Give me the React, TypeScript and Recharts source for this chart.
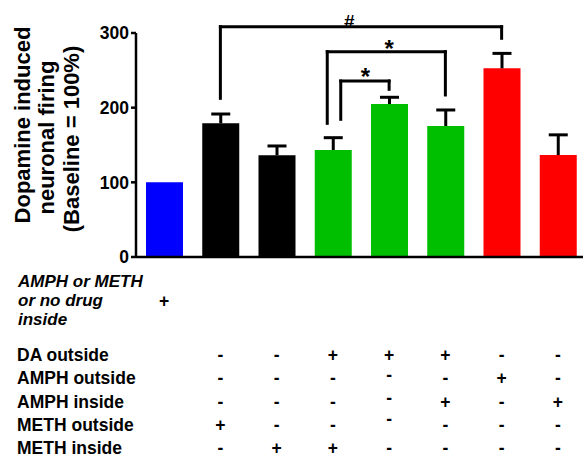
import React from 'react';
import { ComposedChart, Bar, XAxis, YAxis, Cell, ReferenceLine, ReferenceDot } from 'recharts';

const groups = [0, 1, 2, 3, 4, 5, 6, 7];
const firingValues = [100, 179, 136.2, 143.3, 204.9, 175.4, 252.7, 136.6];
const firingSem = [0, 12.5, 12.5, 16.5, 9, 21.5, 20, 27];
const yTicks = [0, 100, 200, 300];
const barColors = ['#0000ff', '#000000', '#000000', '#00bf00', '#00bf00', '#00bf00', '#ff0000', '#ff0000'];

const yLabelLines = ['Dopamine induced', 'neuronal firing', '(Baseline = 100%)'];
const insideLabelLines = ['AMPH or METH', 'or no drug', 'inside'];
const insideMarks = ['+', '', '', '', '', '', '', ''];
const rowLabels = ['DA outside', 'AMPH outside', 'AMPH inside', 'METH outside', 'METH inside'];
const daOutside = ['', '-', '-', '+', '+', '+', '-', '-'];
const amphOutside = ['', '-', '-', '-', '-', '-', '+', '-'];
const amphInside = ['', '-', '-', '-', '-', '+', '-', '+'];
const methOutside = ['', '+', '-', '-', '-', '-', '-', '-'];
const methInside = ['', '-', '+', '+', '-', '-', '-', '-'];
const tableRows = [daOutside, amphOutside, amphInside, methOutside, methInside];

const bracketFrom = [1, 2.9, 3.14];
const bracketTo = [6, 5, 4];
const bracketTop = [308.4, 275, 235.7];
const bracketFromBottom = [212.5, 179, 184.4];
const bracketToBottom = [292.9, 217, 224.6];
const signifText = ['#', '*', '*'];
const signifX = [3.29, 4.0, 3.58];
const signifY = [316, 286.2, 248.2];

const data = groups.map((g, i) => ({ g, value: firingValues[i], sem: firingSem[i] }));

const FONT = '"Liberation Sans", Arial, Helvetica, sans-serif';
const INK = '#000';

// layout (styles)
const insideMarkBaseline = 307;
const rowBaselines = [361, 384.3, 407.6, 431, 454.3];
const markNudge: Record<string, number> = { '1-4': -3, '2-4': -4, '3-4': -6 };
const CAP_HALF = 9.5;

const MarkTick = (props: any) => {
  const { x, payload } = props;
  const col = payload.value as number;
  return (
    <g>
      {insideMarks[col] ? (
        <text x={x} y={insideMarkBaseline} textAnchor="middle" fontFamily={FONT} fontWeight="bold" fontSize={17.5} fill={INK}>
          {insideMarks[col]}
        </text>
      ) : null}
      {tableRows.map((row, r) =>
        row[col] ? (
          <text
            key={r}
            x={x}
            y={rowBaselines[r] + (markNudge[`${r}-${col}`] || 0)}
            textAnchor="middle"
            fontFamily={FONT}
            fontWeight="bold"
            fontSize={17.5}
            fill={INK}
          >
            {row[col]}
          </text>
        ) : null
      )}
    </g>
  );
};

// upper error whisker drawn from the stacked SEM segment's own geometry
const Whisker = (p: any) => {
  const { x, y, width, height } = p;
  if (!height || height <= 0.01) return null;
  const cx = x + width / 2;
  return (
    <g>
      <line x1={cx} x2={cx} y1={y + height} y2={y} stroke={INK} strokeWidth={3} />
      <line x1={cx - CAP_HALF} x2={cx + CAP_HALF} y1={y} y2={y} stroke={INK} strokeWidth={3} />
    </g>
  );
};

const SignifText = (text: string) => (p: any) => {
  const fs = text === '#' ? 19 : 24;
  const dy = text === '#' ? 0.36 * fs : 0.575 * fs;
  return (
    <text x={p.cx} y={p.cy + dy} textAnchor="middle" fontFamily={FONT} fontWeight="bold" fontSize={fs} fill={INK}>
      {text}
    </text>
  );
};

export default function App() {
  const lineProps = { stroke: INK, strokeWidth: 3, strokeLinecap: 'square' as const, ifOverflow: 'visible' as const };
  return (
    <div style={{ position: 'absolute', left: 0, top: 0, width: 583, height: 458, overflow: 'hidden', background: '#fff' }}>
      <ComposedChart width={590} height={458} data={data} margin={{ top: 33, right: 4, bottom: 171, left: 0 }}>
        <XAxis
          dataKey="g"
          type="number"
          domain={[-0.5, 7.5]}
          ticks={groups}
          interval={0}
          height={30}
          tickLine={false}
          axisLine={{ stroke: INK, strokeWidth: 2.5 }}
          tick={<MarkTick />}
        />
        <YAxis
          domain={[0, 300]}
          ticks={yTicks}
          width={136}
          tickSize={5}
          tickMargin={2}
          axisLine={{ stroke: INK, strokeWidth: 2.5 }}
          tickLine={{ stroke: INK, strokeWidth: 2.5 }}
          tick={{ fill: INK, fontFamily: FONT, fontWeight: 'bold', fontSize: 17.5 }}
        />
        <Bar dataKey="value" stackId="s" barSize={37} isAnimationActive={false}>
          {data.map((d, i) => (
            <Cell key={i} fill={barColors[i]} />
          ))}
        </Bar>
        <Bar dataKey="sem" stackId="s" barSize={37} isAnimationActive={false} shape={Whisker} />
        {bracketFrom.map((f, i) => (
          <ReferenceLine
            key={`l${i}`}
            segment={[{ x: f, y: bracketFromBottom[i] }, { x: f, y: bracketTop[i] }]}
            {...lineProps}
          />
        ))}
        {bracketFrom.map((f, i) => (
          <ReferenceLine
            key={`t${i}`}
            segment={[{ x: f, y: bracketTop[i] }, { x: bracketTo[i], y: bracketTop[i] }]}
            {...lineProps}
          />
        ))}
        {bracketTo.map((t, i) => (
          <ReferenceLine
            key={`r${i}`}
            segment={[{ x: t, y: bracketTop[i] }, { x: t, y: bracketToBottom[i] }]}
            {...lineProps}
          />
        ))}
        {signifText.map((s, i) => (
          <ReferenceDot
            key={`s${i}`}
            x={signifX[i]}
            y={signifY[i]}
            r={0}
            ifOverflow="visible"
            shape={SignifText(s)}
          />
        ))}
      </ComposedChart>
      <svg width={583} height={458} style={{ position: 'absolute', left: 0, top: 0, pointerEvents: 'none' }}>
        {yLabelLines.map((t, i) => {
          const bx = [29.5, 54, 79][i];
          const cy = [125, 137.5, 139][i];
          return (
            <text
              key={i}
              x={bx}
              y={cy}
              transform={`rotate(-90, ${bx}, ${cy})`}
              textAnchor="middle"
              fontFamily={FONT}
              fontWeight="bold"
              fontSize={22}
              fill={INK}
            >
              {t}
            </text>
          );
        })}
        {insideLabelLines.map((t, i) => (
          <text
            key={i}
            x={18}
            y={[287, 306, 324.5][i]}
            fontFamily={FONT}
            fontWeight="bold"
            fontStyle="italic"
            fontSize={17}
            fill={INK}
          >
            {t}
          </text>
        ))}
        {rowLabels.map((t, i) => (
          <text key={i} x={17} y={rowBaselines[i]} fontFamily={FONT} fontWeight="bold" fontSize={17.5} fill={INK}>
            {t}
          </text>
        ))}
      </svg>
    </div>
  );
}
